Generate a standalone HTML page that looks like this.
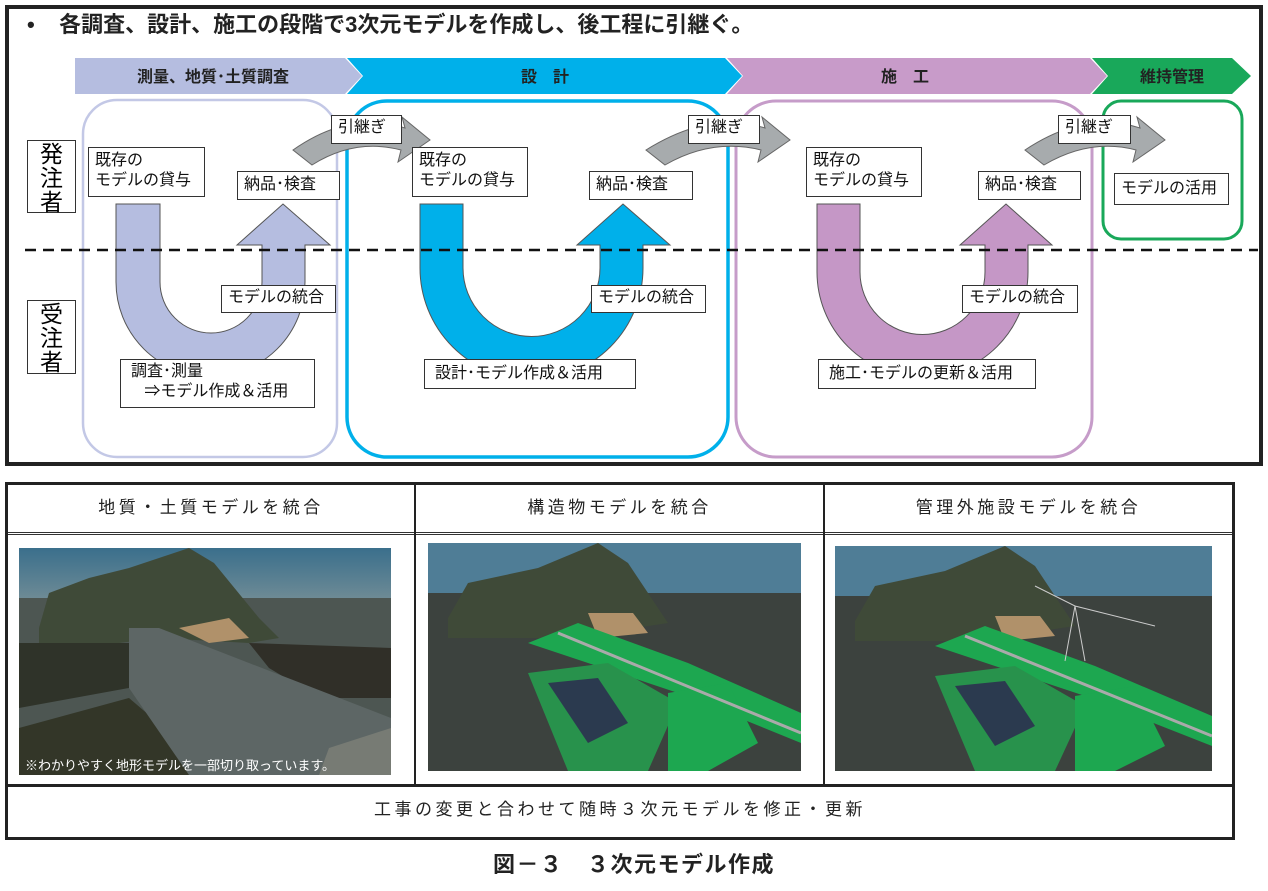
<!DOCTYPE html>
<html><head><meta charset="utf-8"><style>
body{margin:0;width:1268px;height:891px;background:#fff;position:relative;overflow:hidden;font-family:"Liberation Sans","Noto Sans CJK JP",sans-serif;}
.a{position:absolute}
.lb{position:absolute;background:#fff;border:1.5px solid #333;font-size:16px;line-height:20px;color:#111;padding:2px 6px;box-sizing:border-box;white-space:nowrap}
.side{position:absolute;border:1.5px solid #333;background:#fff;font-size:23px;line-height:24px;text-align:center;box-sizing:border-box;padding-top:1px}
.hd{position:absolute;top:482px;height:51px;font-size:17px;line-height:51px;text-align:center;letter-spacing:3.5px;color:#222}
</style></head><body>
<div class="a" style="left:5px;top:5px;width:1250px;height:453px;border:4px solid #222"></div>
<div class="a" style="left:27px;top:7px;font-size:22px;font-weight:bold;color:#222;white-space:nowrap">•&nbsp;&nbsp;&nbsp;&nbsp;各調査、設計、施工の段階で3次元モデルを作成し、後工程に引継ぐ。</div>
<svg class="a" style="left:0;top:0" width="1268" height="470">
<polygon points="75,58 345,58 362,76 345,94 75,94" fill="#b5bde0"/>
<polygon points="347,58 725,58 742,76 725,94 347,94 363,76" fill="#00b0ea"/>
<polygon points="727,58 1090,58 1107,76 1090,94 727,94 743,76" fill="#c89bc9"/>
<polygon points="1092,58 1232,58 1251,76 1232,94 1092,94 1108,76" fill="#19a85a"/>
<rect x="83" y="100" width="254" height="357" rx="34" fill="none" stroke="#c3c8e6" stroke-width="2.5"/>
<rect x="347" y="101" width="381" height="356" rx="40" fill="none" stroke="#00b0ea" stroke-width="3.5"/>
<rect x="736" y="101" width="356" height="356" rx="40" fill="none" stroke="#c69cc9" stroke-width="3"/>
<rect x="1103" y="101" width="139" height="138" rx="18" fill="none" stroke="#19a85a" stroke-width="3"/>
<path d="M116,204 L160,204 L160,282 A51,51 0 0 0 262,282 L262,245 L237,245 L283,204 L330,245 L305,245 L305,282 A94.5,94.5 0 0 1 116,282 Z" fill="#b5bde0" stroke="#555" stroke-width="1"/>
<path d="M420,204 L463,204 L463,268 A68.5,68.5 0 0 0 600,268 L600,245 L577,245 L623,204 L670,245 L643,245 L643,268 A111.5,111.5 0 0 1 420,268 Z" fill="#00b0ea" stroke="#555" stroke-width="1"/>
<path d="M817,204 L860,204 L860,272 A62.5,62.5 0 0 0 985,272 L985,245 L960,245 L1006,204 L1052,245 L1028,245 L1028,272 A105.5,105.5 0 0 1 817,272 Z" fill="#c597c6" stroke="#555" stroke-width="1"/>
<g fill="#a7abad" stroke="#666" stroke-width="1">
<path d="M293,150 Q350,110 405,128 L402,117 L430,140 L398,162 L401,150 Q355,138 312,165 Z"/>
<path d="M646,150 Q710,110 765,128 L762,117 L790,140 L758,162 L761,150 Q712,138 665,165 Z"/>
<path d="M1025,150 Q1085,110 1140,128 L1137,117 L1165,140 L1133,162 L1136,150 Q1090,138 1044,165 Z"/>
</g>
<line x1="25" y1="250" x2="1258" y2="250" stroke="#111" stroke-width="2.5" stroke-dasharray="11,7"/>
<g font-size="16" font-weight="bold" fill="#222" text-anchor="middle" font-family="Liberation Sans,Noto Sans CJK JP,sans-serif">
<text x="213" y="82">測量、地質･土質調査</text>
<text x="545" y="82">設　計</text>
<text x="905" y="82">施　工</text>
<text x="1172" y="82">維持管理</text>
</g>
</svg>
<div class="side" style="left:27px;top:140px;width:49px;height:73px">発<br>注<br>者</div>
<div class="side" style="left:27px;top:300px;width:49px;height:74px">受<br>注<br>者</div>
<div class="lb" style="left:331px;top:115px;width:71px;height:29px">引継ぎ</div>
<div class="lb" style="left:688px;top:115px;width:72px;height:29px">引継ぎ</div>
<div class="lb" style="left:1058px;top:115px;width:73px;height:29px">引継ぎ</div>
<div class="lb" style="left:88px;top:147px;width:117px;height:50px;padding-top:3px">既存の<br>モデルの貸与</div>
<div class="lb" style="left:412px;top:147px;width:116px;height:50px;padding-top:3px">既存の<br>モデルの貸与</div>
<div class="lb" style="left:806px;top:147px;width:116px;height:50px;padding-top:3px">既存の<br>モデルの貸与</div>
<div class="lb" style="left:237px;top:171px;width:103px;height:29px;padding-top:3px">納品･検査</div>
<div class="lb" style="left:589px;top:171px;width:104px;height:29px;padding-top:3px">納品･検査</div>
<div class="lb" style="left:978px;top:171px;width:103px;height:29px;padding-top:3px">納品･検査</div>
<div class="lb" style="left:1114px;top:173px;width:115px;height:32px;padding-top:5px">モデルの活用</div>
<div class="lb" style="left:221px;top:285px;width:115px;height:28px;padding-top:2px">モデルの統合</div>
<div class="lb" style="left:591px;top:285px;width:115px;height:28px;padding-top:2px">モデルの統合</div>
<div class="lb" style="left:962px;top:285px;width:116px;height:28px;padding-top:2px">モデルの統合</div>
<div class="lb" style="left:120px;top:359px;width:195px;height:49px;padding-left:10px">調査･測量<br>&nbsp;&nbsp;&nbsp;⇒モデル作成＆活用</div>
<div class="lb" style="left:424px;top:359px;width:212px;height:30px;padding-top:4px;padding-left:10px">設計･モデル作成＆活用</div>
<div class="lb" style="left:818px;top:359px;width:218px;height:30px;padding-top:4px;padding-left:10px">施工･モデルの更新＆活用</div>

<div class="a" style="left:5px;top:482px;width:1224px;height:352px;border:3px solid #222;box-sizing:content-box"></div>
<div class="a" style="left:8px;top:532px;width:1224px;border-top:1px solid #333;border-bottom:1px solid #333;box-sizing:border-box;height:3px"></div>
<div class="a" style="left:8px;top:784px;width:1224px;height:3px;background:#222"></div>
<div class="a" style="left:414px;top:485px;width:2px;height:300px;background:#222"></div>
<div class="a" style="left:823px;top:485px;width:2px;height:300px;background:#222"></div>
<div class="hd" style="left:8px;width:406px">地質・土質モデルを統合</div>
<div class="hd" style="left:416px;width:407px">構造物モデルを統合</div>
<div class="hd" style="left:825px;width:407px">管理外施設モデルを統合</div>
<div class="a" style="left:8px;top:787px;width:1224px;height:48px;line-height:46px;text-align:center;font-size:17px;letter-spacing:3.5px;color:#222">工事の変更と合わせて随時３次元モデルを修正・更新</div>
<div class="a" style="left:0;top:847px;width:1268px;text-align:center;font-size:22px;font-weight:bold;letter-spacing:1.5px;color:#222">図－３　３次元モデル作成</div>

<svg class="a" style="left:19px;top:548px" width="372" height="227" viewBox="0 0 372 227">
<defs><linearGradient id="sk" x1="0" y1="0" x2="0" y2="1"><stop offset="0" stop-color="#3a6f8c"/><stop offset="1" stop-color="#6d8a95"/></linearGradient></defs>
<rect width="372" height="227" fill="#4d5652"/><rect width="372" height="50" fill="url(#sk)"/>
<path d="M20,80 L30,45 L70,30 L110,20 L170,0 L195,15 L240,70 L260,90 L230,95 L140,90 L60,100 L20,100Z" fill="#3f4a38"/>
<path d="M160,80 L210,70 L230,90 L190,95Z" fill="#b0916a"/>
<path d="M0,95 L120,95 L110,140 L0,160Z" fill="#2f3329"/><path d="M0,180 L110,150 L200,227 L0,227Z" fill="#333628"/>
<path d="M230,95 L372,100 L372,150 L300,150 L250,120Z" fill="#302f28"/>
<path d="M110,80 L140,80 L230,115 L372,170 L372,227 L170,227 L110,140Z" fill="#5d6665"/>
<path d="M310,200 L372,180 L372,227 L300,227Z" fill="#777b74"/>
<text x="6" y="222" font-size="13" fill="#fff" font-family="Liberation Sans,Noto Sans CJK JP,sans-serif">※わかりやすく地形モデルを一部切り取っています。</text>
</svg>
<svg class="a" style="left:428px;top:543px" width="373" height="228" viewBox="0 0 373 228">
<rect width="373" height="228" fill="#3c423e"/><rect width="373" height="50" fill="#4f7d96"/>
<path d="M20,75 L40,40 L110,25 L170,0 L200,20 L240,80 L140,95 L20,95Z" fill="#3f4a38"/>
<path d="M160,70 L205,70 L220,90 L170,95Z" fill="#b0916a"/>
<path d="M100,100 L150,80 L260,120 L373,170 L373,200 L250,150 L130,110Z" fill="#1da750"/>
<path d="M100,130 L180,120 L250,160 L220,228 L140,228Z" fill="#28924c"/>
<path d="M120,140 L170,135 L200,180 L160,200Z" fill="#2b3a4f"/>
<path d="M240,150 L300,140 L330,200 L280,228 L240,228Z" fill="#1da750"/>
<path d="M130,90 L373,190" stroke="#aaa" stroke-width="3"/>
</svg>
<svg class="a" style="left:835px;top:546px" width="377" height="225" viewBox="0 0 377 225">
<rect width="377" height="225" fill="#3c423e"/><rect width="377" height="50" fill="#4f7d96"/>
<path d="M20,75 L40,40 L110,25 L170,0 L200,20 L240,80 L140,95 L20,95Z" fill="#3f4a38"/>
<path d="M160,70 L205,70 L220,90 L170,95Z" fill="#b0916a"/>
<path d="M100,100 L150,80 L260,120 L377,170 L377,200 L250,150 L130,110Z" fill="#1da750"/>
<path d="M100,130 L180,120 L250,160 L220,225 L140,225Z" fill="#28924c"/>
<path d="M120,140 L170,135 L200,180 L160,200Z" fill="#2b3a4f"/>
<path d="M240,150 L300,140 L330,200 L280,225 L240,225Z" fill="#1da750"/>
<path d="M130,90 L377,190" stroke="#aaa" stroke-width="3"/>
<path d="M230,115 L240,60 L250,115 M200,40 L240,60 L320,80" stroke="#ccc" stroke-width="1" fill="none"/>
</svg>
</body></html>
